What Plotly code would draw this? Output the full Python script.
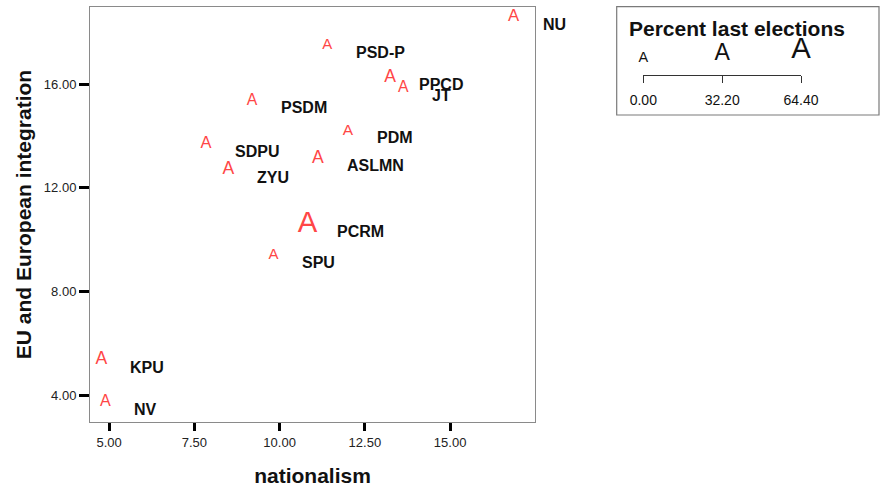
import math
import plotly.graph_objects as go

# ---- data ----
parties = ["NU", "PSD-P", "PPCD", "JT", "PSDM", "PDM", "SDPU", "ASLMN", "ZYU",
           "PCRM", "SPU", "KPU", "NV"]
nationalism = [16.86, 11.40, 13.24, 13.63, 9.19, 12.00, 7.84, 11.12, 8.50,
               10.82, 9.82, 4.77, 4.89]
eu_integration = [18.59, 17.49, 16.27, 15.85, 15.37, 14.20, 13.68, 13.14, 12.69,
                  10.59, 9.41, 5.36, 3.73]
percent_last = [7.0, 1.5, 10.0, 4.0, 4.0, 3.0, 6.0, 10.0, 10.0,
                64.4, 1.5, 10.0, 5.0]
legend_values = [0.0, 32.2, 64.4]
legend_labels = ["0.00", "32.20", "64.40"]
x_ticks = [5.0, 7.5, 10.0, 12.5, 15.0]
y_ticks = [4.0, 8.0, 12.0, 16.0]

FONT = "Liberation Sans, Arial, sans-serif"


def glyph_size(p):
    return math.sqrt(210 + 10.07 * p)


W, H = 886, 490
ML, MR, MT, MB = 90, 85, 7, 68
PW = W - ML - MR
PH = H - MT - MB
main_right = 535


def px_x(px):
    return (px - ML) / PW


def px_y(py):
    return (H - MB - py) / PH


fig = go.Figure()

fig.add_trace(go.Scatter(
    x=nationalism, y=eu_integration, mode="text", text=["A"] * len(parties),
    textposition="middle center",
    textfont=dict(family=FONT, color="#ff4646",
                  size=[glyph_size(p) for p in percent_last]),
    cliponaxis=False, showlegend=False, hoverinfo="skip",
))

for name, xv, yv in zip(parties, nationalism, eu_integration):
    fig.add_annotation(
        x=xv, y=yv, xref="x", yref="y", text="<b>%s</b>" % name,
        showarrow=False, xanchor="left", yanchor="middle",
        xshift=27, yshift=-7,
        font=dict(family=FONT, size=16, color="#111111"),
    )

# size legend drawn on its own small axis
fig.add_trace(go.Scatter(
    x=legend_values, y=[0.2] * len(legend_values), mode="text",
    text=["A"] * len(legend_values), textposition="top center",
    textfont=dict(family=FONT, color="#111111",
                  size=[glyph_size(v) for v in legend_values]),
    xaxis="x2", yaxis="y2", cliponaxis=False, showlegend=False,
    hoverinfo="skip",
))

fig.update_layout(
    width=W, height=H,
    margin=dict(l=ML, r=MR, t=MT, b=MB),
    paper_bgcolor="white", plot_bgcolor="white",
    font=dict(family=FONT, color="#222222"),
    xaxis=dict(
        domain=[0, px_x(main_right)], range=[4.44, 17.49],
        tickvals=x_ticks, ticktext=["%.2f" % v for v in x_ticks],
        ticks="outside", ticklen=8, tickwidth=3, tickcolor="black",
        showline=True, linecolor="#8a8a8a", linewidth=1, mirror=True,
        showgrid=False, zeroline=False,
        tickfont=dict(size=13, color="#222222"),
        title=dict(text="<b>nationalism</b>", font=dict(size=21, color="#111111"),
                   standoff=19),
    ),
    yaxis=dict(
        domain=[0, 1], range=[2.97, 18.98],
        tickvals=y_ticks, ticktext=["%.2f" % v for v in y_ticks],
        ticks="outside", ticklen=10, tickwidth=3, tickcolor="black",
        showline=True, linecolor="#8a8a8a", linewidth=1, mirror=True,
        showgrid=False, zeroline=False,
        tickfont=dict(size=13, color="#222222"),
        title=dict(text="<b>EU and European integration</b>",
                   font=dict(size=21, color="#111111"), standoff=6),
    ),
    xaxis2=dict(
        domain=[px_x(643.3), 1.0], range=[0, 64.4], anchor="y2",
        tickvals=legend_values, ticktext=legend_labels,
        ticks="outside", ticklen=7, tickwidth=1, tickcolor="#333333",
        showline=True, linecolor="#333333", linewidth=1,
        showgrid=False, zeroline=False,
        tickfont=dict(size=14, color="#111111"), ticklabelstandoff=5,
    ),
    yaxis2=dict(
        domain=[px_y(75), px_y(28)], range=[0, 1], anchor="x2",
        visible=False,
    ),
)

fig.add_shape(
    type="rect", xref="paper", yref="paper",
    x0=px_x(616.7), x1=px_x(879), y0=px_y(115), y1=px_y(6.7),
    line=dict(color="#7a7a7a", width=1.2), fillcolor="rgba(0,0,0,0)",
    layer="below",
)
fig.add_annotation(
    xref="paper", yref="paper", x=px_x(627), y=px_y(28),
    xanchor="left", yanchor="middle", showarrow=False,
    text="<b>Percent last elections</b>",
    font=dict(family=FONT, size=21, color="#111111"),
)

fig.write_html("out.html")
